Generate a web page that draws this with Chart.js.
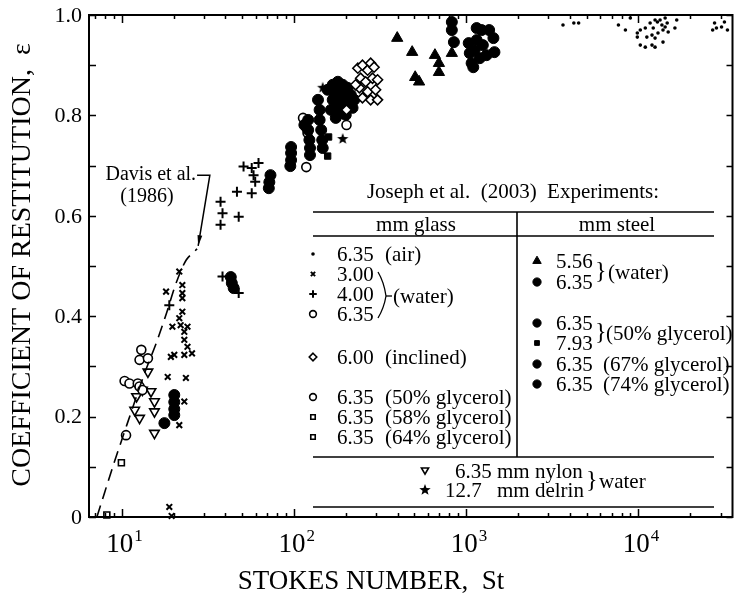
<!DOCTYPE html>
<html><head><meta charset="utf-8">
<script src="https://cdn.jsdelivr.net/npm/chart.js@4/dist/chart.umd.min.js"></script>
<style>
html,body{margin:0;padding:0;background:#fff;overflow:hidden;width:736px;height:598px}
#wrap{position:absolute;left:0;top:0;width:740px;height:598px}
</style>
</head><body><div id="wrap"><canvas id="c"></canvas></div>
<script>
// ---------- DATA (Stokes number St, coefficient of restitution e) ----------
const glassAir635 = [[3650,0.980],[4220,0.984],[4500,0.984],[7660,0.980],[8410,0.970],[8980,0.994],[9860,0.964],[9860,0.956],[10260,0.970],[10970,0.974],[11700,0.984],[12200,0.974],[12900,0.986],[13370,0.990],[13700,0.980],[14300,0.976],[14700,0.984],[13900,0.970],[14900,0.966],[13000,0.964],[12000,0.960],[11200,0.956],[12500,0.954],[10260,0.940],[10970,0.936],[12000,0.940],[12500,0.936],[13900,0.946],[16300,0.974],[16700,0.990],[12500,0.990],[14300,0.994],[27700,0.984],[28400,0.974],[27000,0.970],[30400,0.976],[31600,0.986],[32900,0.970]];
const glassWater300 = [[18.5,0.279],[19.3,0.319],[20.2,0.323],[23.1,0.323],[24.1,0.339],[25.6,0.326],[23.6,0.277],[23.1,0.230],[21.6,0.183],[18.1,0.449],[21.6,0.489],[22.5,0.446],[22.5,0.436],[22.5,0.462],[19.7,0.379],[22.0,0.382],[22.5,0.409],[23.1,0.369],[23.1,0.353],[24.1,0.379],[21.6,0.396],[18.9,0.020],[19.5,0.002]];
const glassWater400 = [[37.5,0.628],[38.5,0.605],[37.5,0.582],[47.8,0.598],[46.7,0.648],[51.0,0.698],[56.9,0.695],[58.3,0.681],[59.6,0.668],[56.9,0.645],[62.3,0.705],[38.5,0.479],[47.8,0.446],[18.9,0.422]];
const glassWater635 = [[113,0.795],[117,0.777],[118,0.697],[202,0.781],[120,0.765]];
const glassInclined600 = [[235,0.894],[250,0.900],[268,0.890],[279,0.904],[292,0.896],[244,0.874],[261,0.867],[286,0.874],[306,0.871],[240,0.855],[268,0.847],[298,0.851],[250,0.835],[279,0.831],[306,0.831],[228,0.861],[202,0.811]];
const glassGly50_635 = [[13.0,0.333],[12.7,0.313],[14.2,0.316],[10.4,0.271],[11.1,0.266],[12.4,0.266],[12.7,0.260],[13.2,0.253],[10.6,0.163]];
const glassGly58_635 = [[9.96,0.108]];
const glassGly64_635 = [[8.2,0.004]];
const steelWater556 = [[398,0.954],[486,0.926],[506,0.876],[533,0.867],[659,0.920],[695,0.904],[695,0.886],[826,0.924]];
const steelWater635 = [[826,0.986],[826,0.970],[849,0.946],[1035,0.944],[1050,0.924],[1076,0.904],[1100,0.896],[1151,0.974],[1230,0.970],[1360,0.970],[1440,0.954],[1460,0.926],[1151,0.950],[1250,0.940],[1314,0.920],[1200,0.914],[1120,0.930]];
const steelGly50_635 = [[96.3,0.737],[96.3,0.725],[96.3,0.711],[95.3,0.699],[121,0.791],[121,0.771],[123,0.751],[124,0.735],[124,0.721],[115,0.781],[138,0.831],[141,0.811],[141,0.791],[144,0.771],[146,0.751],[147,0.735],[168,0.861],[180,0.867],[192,0.861],[205,0.855],[175,0.841],[187,0.841],[200,0.841],[214,0.841],[224,0.831],[168,0.831],[180,0.821],[192,0.821],[205,0.821],[219,0.815],[164,0.811],[187,0.805],[175,0.795],[200,0.801],[157,0.851],[180,0.847]];
const steelGly50_793 = [[157,0.719],[159,0.757]];
const steelGly67_635 = [[43.0,0.478],[43.6,0.466],[44.7,0.456],[73.1,0.681],[72.0,0.667],[71.5,0.655]];
const steelGly74_635 = [[17.7,0.187],[20.2,0.243],[20.2,0.229],[20.2,0.215],[20.2,0.203]];
const nylonWater635 = [[14.2,0.289],[13.2,0.253],[14.8,0.250],[15.5,0.230],[15.5,0.210],[11.9,0.213],[12.7,0.197],[15.5,0.167],[12.2,0.240]];
const delrinWater127 = [[147,0.855],[192,0.753]];
const davis1986 = [[7.18,0],[8.88,0.100],[10.8,0.187],[13.6,0.287],[15.9,0.347],[18.2,0.406],[20.7,0.466],[23.7,0.512],[27.4,0.534]];

const yTickValues = [0,0.1,0.2,0.3,0.4,0.5,0.6,0.7,0.8,0.9,1.0];
const yTickLabels = {0:'0',0.2:'0.2',0.4:'0.4',0.6:'0.6',0.8:'0.8',1:'1.0'};
const xDecades = [10,100,1000,10000];
const xDecadeExponents = ['1','2','3','4'];
const xMinorMultipliers = [2,3,4,5,6,7,8,9];
const xTitle = 'STOKES NUMBER,  St';
const yTitle = 'COEFFICIENT OF RESTITUTION,  \u03b5';
// annotation anchor points (data units)
const davisLabel = ['Davis et al.', '(1986)'];
const davisArrow = [[27.4,0.681],[32.5,0.681],[27.8,0.540]];

// ---------- STYLE ----------
const SERIF = '"Liberation Serif","Times New Roman",serif';
function makeStar(r){
  const s=Math.ceil(r*2+2), c=document.createElement('canvas');
  c.width=s;c.height=s;const g=c.getContext('2d');g.fillStyle='#000';g.beginPath();
  for(let i=0;i<10;i++){const a=-Math.PI/2+i*Math.PI/5, rr=i%2?r*0.42:r;g.lineTo(s/2+rr*Math.cos(a),s/2+rr*Math.sin(a));}
  g.closePath();g.fill();return c;
}
const STAR = makeStar(6);
const ST = {
  dot:{pointStyle:'circle',radius:1.8,fill:'#000',bw:0,rot:0},
  x:{pointStyle:'crossRot',radius:4,fill:'#000',bw:2,rot:0},
  plus:{pointStyle:'cross',radius:5,fill:'#000',bw:2,rot:0},
  ocirc:{pointStyle:'circle',radius:4.5,fill:'#fff',bw:1.6,rot:0},
  diamond:{pointStyle:'rectRot',radius:5,fill:'#fff',bw:1.6,rot:0},
  osq:{pointStyle:'rect',radius:4.2,fill:'#fff',bw:1.6,rot:0},
  tri:{pointStyle:'triangle',radius:6.5,fill:'#000',bw:1,rot:0},
  fcirc:{pointStyle:'circle',radius:5.5,fill:'#000',bw:1,rot:0},
  fsq:{pointStyle:'rect',radius:4.5,fill:'#000',bw:1,rot:0},
  dtri:{pointStyle:'triangle',radius:5.5,fill:'#fff',bw:1.6,rot:180},
  star:{pointStyle:STAR,radius:6,fill:'#000',bw:0,rot:0}
};
function ds(label,data,s){
  return {label,data:data.map(p=>({x:p[0],y:p[1]})),pointStyle:s.pointStyle,pointRadius:s.radius,pointHoverRadius:s.radius,
    pointRotation:s.rot,backgroundColor:s.fill,borderColor:'#000',borderWidth:s.bw,pointBorderWidth:s.bw,showLine:false,clip:false};
}
const datasets = [
  {label:'Davis et al. (1986)',type:'line',data:davis1986.map(p=>({x:p[0],y:p[1]})),showLine:true,borderColor:'#000',borderWidth:1.6,borderDash:[12,7],pointRadius:0,fill:false,tension:0.3,clip:false},
  ds('glass 6.35 air',glassAir635,ST.dot),
  ds('glass 3.00 water',glassWater300,ST.x),
  ds('glass 4.00 water',glassWater400,ST.plus),
  ds('glass 6.00 inclined',glassInclined600,ST.diamond),
  ds('steel 6.35 50% glycerol',steelGly50_635,ST.fcirc),
  ds('glass 6.35 water',glassWater635,ST.ocirc),
  ds('glass 6.35 50% glycerol',glassGly50_635,ST.ocirc),
  ds('glass 6.35 58% glycerol',glassGly58_635,ST.osq),
  ds('glass 6.35 64% glycerol',glassGly64_635,ST.osq),
  ds('steel 5.56 water',steelWater556,ST.tri),
  ds('steel 6.35 water',steelWater635,ST.fcirc),
  ds('steel 7.93 50% glycerol',steelGly50_793,ST.fsq),
  ds('steel 6.35 67% glycerol',steelGly67_635,ST.fcirc),
  ds('steel 6.35 74% glycerol',steelGly74_635,ST.fcirc),
  ds('nylon 6.35 water',nylonWater635,ST.dtri),
  ds('delrin 12.7 water',delrinWater127,ST.star)
];

function marker(ctx,s,x,y){
  ctx.save();ctx.translate(x,y);ctx.rotate((s.rot||0)*Math.PI/180);
  ctx.fillStyle=s.fill;ctx.strokeStyle='#000';ctx.lineWidth=s.bw||1;
  const r=s.radius;ctx.beginPath();
  const p=s.pointStyle;
  if(p instanceof HTMLCanvasElement){ctx.drawImage(p,-p.width/2,-p.height/2);ctx.restore();return;}
  if(p==='circle'){ctx.arc(0,0,r,0,Math.PI*2);ctx.fill();if(s.bw)ctx.stroke();}
  else if(p==='rect'){const h=r*Math.SQRT1_2;ctx.rect(-h,-h,2*h,2*h);ctx.fill();if(s.bw)ctx.stroke();}
  else if(p==='rectRot'){ctx.moveTo(0,-r);ctx.lineTo(r,0);ctx.lineTo(0,r);ctx.lineTo(-r,0);ctx.closePath();ctx.fill();ctx.stroke();}
  else if(p==='triangle'){ctx.moveTo(0,-r);ctx.lineTo(r*0.866,r*0.5);ctx.lineTo(-r*0.866,r*0.5);ctx.closePath();ctx.fill();if(s.bw)ctx.stroke();}
  else if(p==='cross'){ctx.moveTo(-r,0);ctx.lineTo(r,0);ctx.moveTo(0,-r);ctx.lineTo(0,r);ctx.stroke();}
  else if(p==='crossRot'){const h=r*Math.SQRT1_2;ctx.moveTo(-h,-h);ctx.lineTo(h,h);ctx.moveTo(h,-h);ctx.lineTo(-h,h);ctx.stroke();}
  ctx.restore();
}

const frame = {
  id:'frame',
  afterDraw(chart){
    const {ctx,chartArea:a,scales:{x,y}}=chart;
    ctx.save();
    ctx.strokeStyle='#000';ctx.fillStyle='#000';
    // frame
    ctx.lineWidth=2;ctx.strokeRect(a.left,a.top,a.right-a.left,a.bottom-a.top);
    // y ticks
    ctx.lineWidth=1.5;
    yTickValues.forEach(v=>{const py=Math.round(y.getPixelForValue(v))+0.5;
      ctx.beginPath();ctx.moveTo(a.left,py);ctx.lineTo(a.left+7,py);ctx.moveTo(a.right,py);ctx.lineTo(a.right-6,py);ctx.stroke();});
    // x ticks
    const xMin=x.min,xMax=x.max;
    const tick=(v,len)=>{const px=Math.round(x.getPixelForValue(v))+0.5;
      ctx.beginPath();ctx.moveTo(px,a.bottom);ctx.lineTo(px,a.bottom-len);ctx.moveTo(px,a.top);ctx.lineTo(px,a.top+len);ctx.stroke();};
    [1].concat(xDecades).forEach(d=>{
      if(d>=xMin&&d<=xMax)tick(d,8);
      xMinorMultipliers.forEach(m=>{const v=d*m;if(v>xMin&&v<xMax)tick(v,4);});
    });
    // y labels
    ctx.font='22px '+SERIF;ctx.textAlign='right';ctx.textBaseline='middle';
    Object.keys(yTickLabels).forEach(k=>{ctx.fillText(yTickLabels[k],a.left-7,y.getPixelForValue(+k)+1);});
    // x labels
    ctx.textBaseline='alphabetic';
    xDecades.forEach((d,i)=>{const px=x.getPixelForValue(d);
      ctx.font='27px '+SERIF;const w=ctx.measureText('10').width;
      ctx.textAlign='left';ctx.fillText('10',px-w/2-2,a.bottom+35);
      ctx.font='17px '+SERIF;ctx.fillText(xDecadeExponents[i],px+w/2-1,a.bottom+24);});
    // axis titles
    ctx.font='27px '+SERIF;ctx.textAlign='center';
    ctx.fillText(xTitle,371,589);
    ctx.font='28px '+SERIF;
    ctx.save();ctx.translate(30,265);ctx.rotate(-Math.PI/2);ctx.textBaseline='alphabetic';ctx.fillText(yTitle,0,0);ctx.restore();
    // Davis annotation
    ctx.font='20px '+SERIF;ctx.textBaseline='middle';
    const p0=[x.getPixelForValue(davisArrow[0][0]),y.getPixelForValue(davisArrow[0][1])];
    const p1=[x.getPixelForValue(davisArrow[1][0]),y.getPixelForValue(davisArrow[1][1])];
    const p2=[x.getPixelForValue(davisArrow[2][0]),y.getPixelForValue(davisArrow[2][1])];
    ctx.textAlign='right';ctx.fillText(davisLabel[0],p0[0]-1,p0[1]);
    ctx.textAlign='center';ctx.fillText(davisLabel[1],147,p0[1]+22);
    ctx.lineWidth=1.5;ctx.beginPath();ctx.moveTo(p0[0],p0[1]);ctx.lineTo(p1[0],p1[1]);ctx.lineTo(p2[0],p2[1]);ctx.stroke();
    const ang=Math.atan2(p2[1]-p1[1],p2[0]-p1[0]);
    ctx.beginPath();ctx.moveTo(p2[0],p2[1]);
    ctx.lineTo(p2[0]-11*Math.cos(ang-0.22),p2[1]-11*Math.sin(ang-0.22));
    ctx.lineTo(p2[0]-11*Math.cos(ang+0.22),p2[1]-11*Math.sin(ang+0.22));ctx.closePath();ctx.fill();
    // ---- legend table ----
    ctx.font='21px '+SERIF;ctx.textAlign='center';ctx.textBaseline='middle';
    ctx.fillText('Joseph et al.  (2003)  Experiments:',513,192);
    ctx.lineWidth=1.6;
    [212,236,457,507].forEach(yy=>{ctx.beginPath();ctx.moveTo(313,yy);ctx.lineTo(714,yy);ctx.stroke();});
    ctx.beginPath();ctx.moveTo(517,212);ctx.lineTo(517,457);ctx.stroke();
    ctx.fillText('mm glass',416,225);ctx.fillText('mm steel',617,225);
    ctx.textAlign='left';
    const small=(s)=>Object.assign({},s,{radius:s.radius*0.75});
    const L=[[ST.dot,254,'6.35','(air)'],[ST.x,274,'3.00',''],[ST.plus,294,'4.00',''],[ST.ocirc,314,'6.35',''],
             [ST.diamond,357,'6.00','(inclined)'],[ST.ocirc,397,'6.35','(50% glycerol)'],[ST.osq,417,'6.35','(58% glycerol)'],[ST.osq,437,'6.35','(64% glycerol)']];
    L.forEach(r=>{marker(ctx,r[0]===ST.dot?r[0]:small(r[0]),313,r[1]);ctx.fillText(r[2],337,r[1]+1);if(r[3])ctx.fillText(r[3],385,r[1]+1);});
    // water bracket
    ctx.lineWidth=1.3;ctx.beginPath();ctx.moveTo(378,272);ctx.quadraticCurveTo(384,282,386,296);ctx.quadraticCurveTo(384,308,378,318);ctx.stroke();
    ctx.beginPath();ctx.moveTo(386,296);ctx.lineTo(392,296);ctx.stroke();
    ctx.fillText('(water)',393,297);
    const R=[[ST.tri,261,'5.56',''],[ST.fcirc,282,'6.35',''],[ST.fcirc,323,'6.35',''],[ST.fsq,343,'7.93',''],
             [ST.fcirc,364,'6.35','(67% glycerol)'],[ST.fcirc,384,'6.35','(74% glycerol)']];
    R.forEach(r=>{marker(ctx,small(r[0]),537,r[1]);ctx.fillText(r[2],556,r[1]+1);if(r[3])ctx.fillText(r[3],603,r[1]+1);});
    ctx.font='24px '+SERIF;
    ctx.fillText('}',595,272);ctx.fillText('}',595,333);ctx.fillText('}',586,481);
    ctx.font='21px '+SERIF;
    ctx.fillText('(water)',608,273);
    ctx.fillText('(50% glycerol)',606,334);
    marker(ctx,small(ST.dtri),425,470);ctx.fillText('6.35',455,472);ctx.fillText('mm nylon',497,472);
    marker(ctx,ST.star,425,490);ctx.fillText('12.7',445,491);ctx.fillText('mm delrin',497,491);
    ctx.fillText('water',599,482);
    ctx.restore();
  }
};

new Chart(document.getElementById('c'),{
  type:'scatter',
  data:{datasets},
  options:{
    responsive:true,maintainAspectRatio:false,animation:false,events:[],
    layout:{padding:{left:89,top:15,right:2,bottom:81}},
    scales:{
      x:{type:'logarithmic',min:6.46,max:35200,display:false},
      y:{type:'linear',min:0,max:1,display:false}
    },
    plugins:{legend:{display:false},tooltip:{enabled:false}}
  },
  plugins:[frame]
});
</script></body></html>
